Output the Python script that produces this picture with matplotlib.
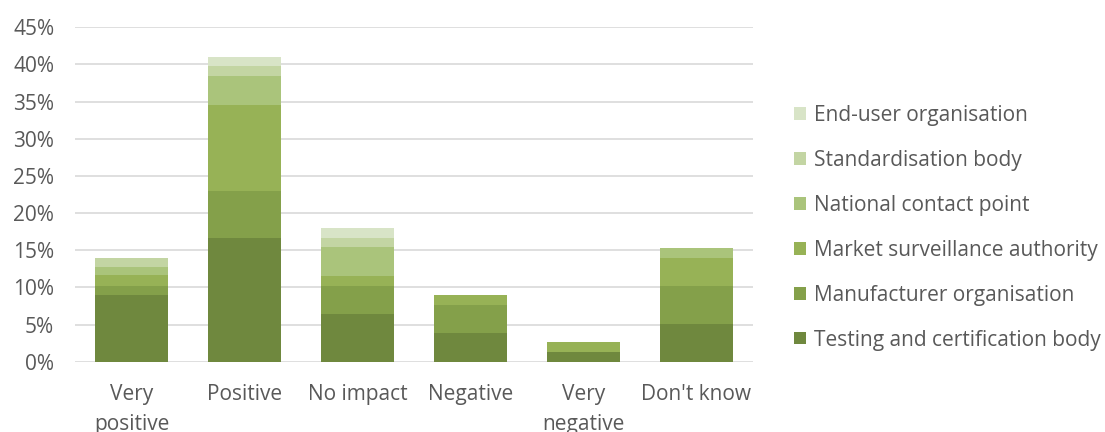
import matplotlib
matplotlib.use("Agg")
import matplotlib.pyplot as plt
import numpy as np

categories = ["Very\npositive", "Positive", "No impact", "Negative", "Very\nnegative", "Don't know"]
series_names = ["Testing and certification body", "Manufacturer organisation",
                "Market surveillance authority", "National contact point",
                "Standardisation body", "End-user organisation"]
testing = [9.0, 16.6, 6.4, 3.8, 1.3, 5.1]
manufacturer = [1.2, 6.4, 3.8, 3.85, 0.0, 5.1]
market = [1.5, 11.6, 1.35, 1.35, 1.3, 3.8]
national = [1.1, 3.8, 3.85, 0.0, 0.0, 1.3]
standardisation = [1.2, 1.45, 1.2, 0.0, 0.0, 0.0]
end_user = [0.0, 1.15, 1.4, 0.0, 0.0, 0.0]
yticks = [0, 5, 10, 15, 20, 25, 30, 35, 40, 45]

series = [testing, manufacturer, market, national, standardisation, end_user]
colors = ["#6F883E", "#84A04A", "#97B256", "#AAC47B", "#C3D5A3", "#D8E4C7"]

plt.rcParams['font.family'] = ['Open Sans', 'DejaVu Sans']
fig = plt.figure(figsize=(11.05, 4.32), dpi=100)
ax = fig.add_axes([0.0679, 0.1627, 0.6135, 0.7741])

x = np.arange(len(categories))
bottom = np.zeros(len(categories))
handles = []
for name, vals, c in zip(series_names, series, colors):
    b = ax.bar(x, vals, width=0.65, bottom=bottom, color=c, label=name, zorder=3, linewidth=0)
    handles.append(b)
    bottom += np.array(vals)

ax.set_xlim(-0.5, len(categories) - 0.5)
ax.set_ylim(0, 45)
ax.set_yticks(yticks)
ax.set_yticklabels([f"{v}%" for v in yticks])
ax.set_xticks(x)
ax.set_xticklabels(categories, linespacing=1.55)
ax.yaxis.grid(True, color="#D9D9D9", linewidth=1.2, zorder=0)
for s in ax.spines.values():
    s.set_visible(False)
ax.tick_params(axis='both', length=0, labelsize=15, labelcolor="#595959")
ax.tick_params(axis='y', pad=15)
ax.tick_params(axis='x', pad=16)

leg = fig.legend(handles[::-1], series_names[::-1], loc='center left',
                 bbox_to_anchor=(0.719, 0.473), frameon=False, fontsize=15,
                 labelspacing=1.15, handlelength=0.55, handleheight=0.55, handletextpad=0.4,
                 borderaxespad=0, borderpad=0)
for t in leg.get_texts():
    t.set_color("#595959")

fig.savefig("out.png", dpi=100)
